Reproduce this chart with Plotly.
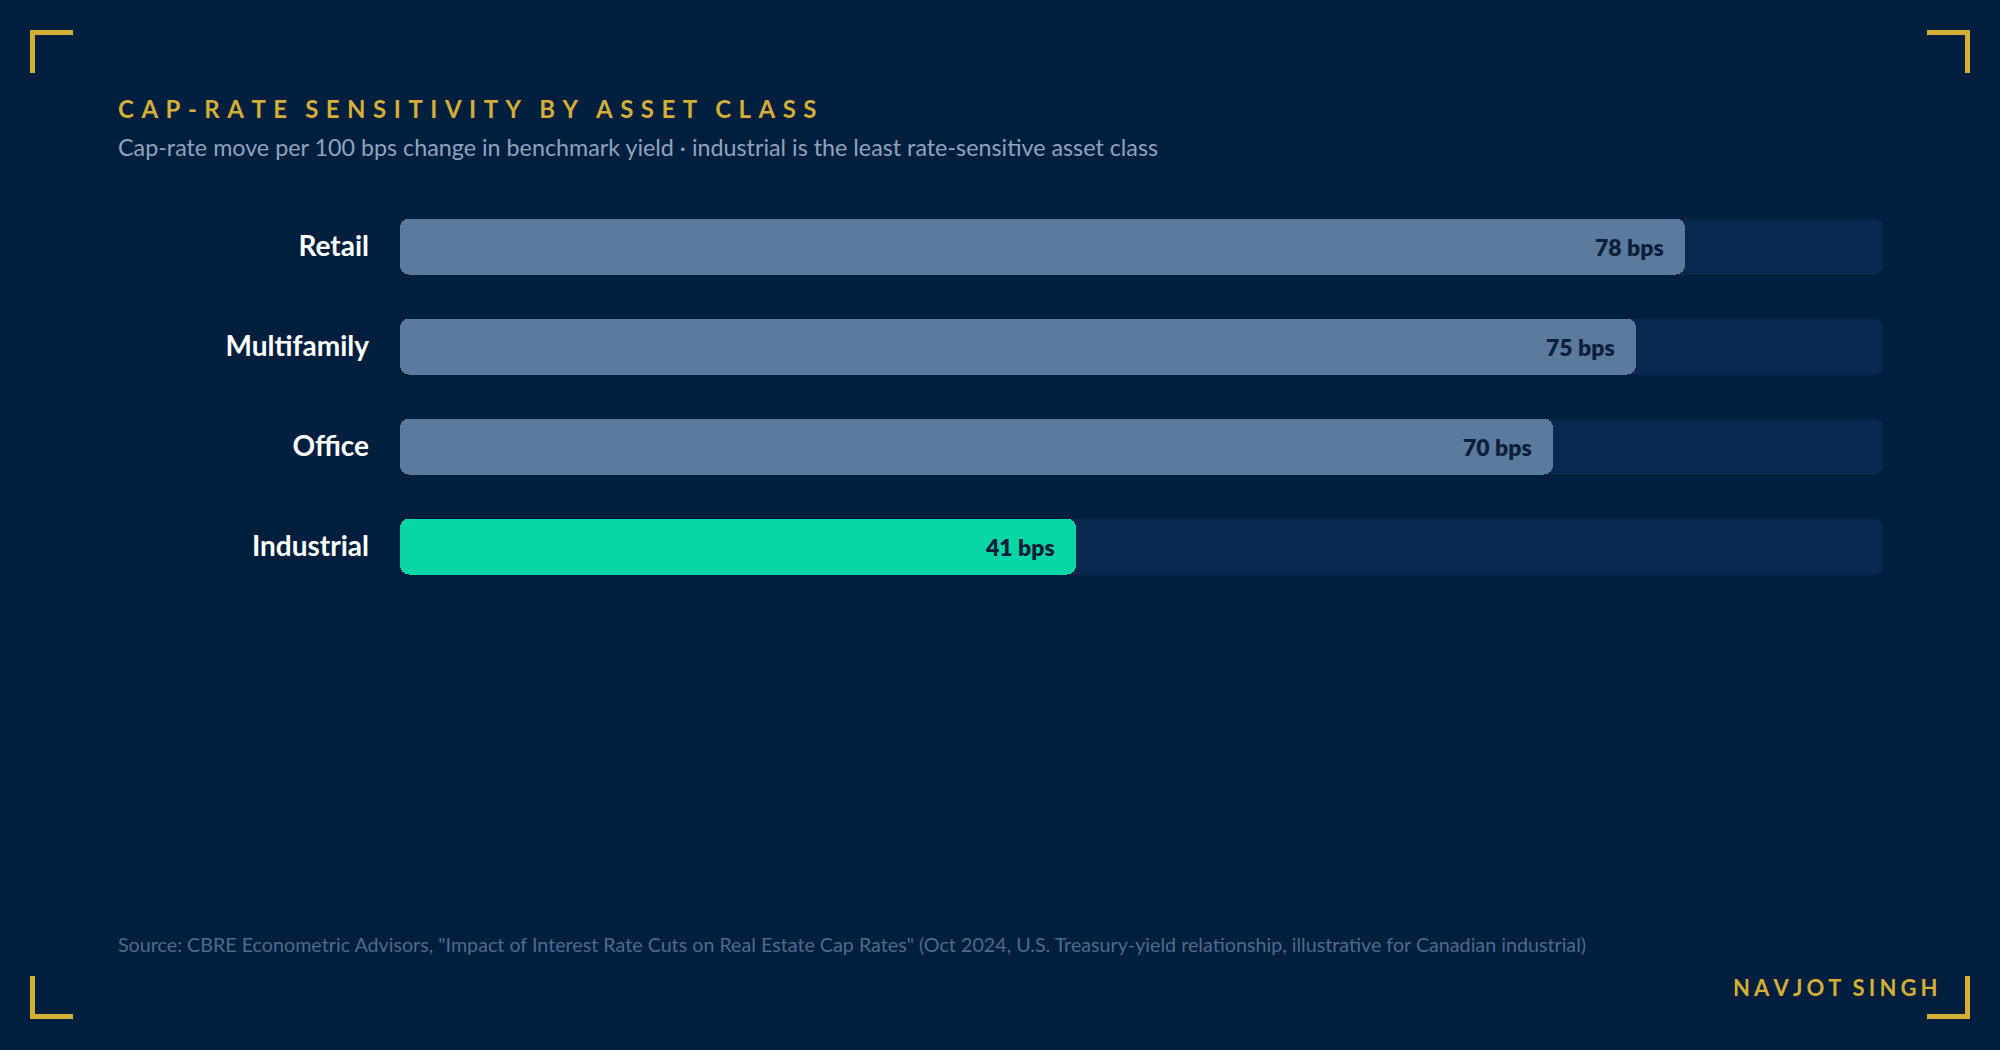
import plotly.graph_objects as go

# ---------------- data ----------------
categories = ["Retail", "Multifamily", "Office", "Industrial"]
values = [78, 75, 70, 41]
track_max = 90
value_labels = [f"{v} bps" for v in values]

title_text = "CAP-RATE SENSITIVITY BY ASSET CLASS"
subtitle_text = ("Cap-rate move per 100 bps change in benchmark yield \u00b7 "
                 "industrial is the least rate-sensitive asset class")
source_text = ("Source: CBRE Econometric Advisors, \"Impact of Interest Rate Cuts on Real Estate "
               "Cap Rates\" (Oct 2024, U.S. Treasury-yield relationship, illustrative for Canadian industrial)")
author_text = "NAVJOT SINGH"

# ---------------- style ----------------
W, H = 2000, 1050
BG = "#001f3f"
TRACK = "#082850"
BAR = "#5c7a9e"
HILITE = "#08d6a4"
GOLD = "#d4af37"
LABEL_DARK = "#0b1f3b"
FONT = "Lato"
RADIUS = 9
BAR_W = 0.56


def spaced(s, gap, wordgap):
    words = s.split(" ")
    return wordgap.join(gap.join(list(w)) for w in words)


def px_x(x):
    return x / W


def px_y(y):
    return 1 - y / H


bar_colors = [HILITE if c == "Industrial" else BAR for c in categories]

fig = go.Figure()
# background track
fig.add_trace(go.Bar(
    y=categories, x=[track_max] * len(categories), base=[0] * len(categories),
    orientation="h", yaxis="y",
    marker=dict(color=TRACK, cornerradius=RADIUS, line=dict(width=0)),
    width=BAR_W, hoverinfo="skip", showlegend=False,
))
# value bars (explicit base -> all four corners rounded), on their own overlay axis
fig.add_trace(go.Bar(
    y=categories, x=values, base=[0] * len(categories), orientation="h", yaxis="y2",
    marker=dict(color=bar_colors, cornerradius=RADIUS, line=dict(width=0)),
    width=BAR_W, hoverinfo="skip", showlegend=False,
))

annotations = []
for c, v, lab in zip(categories, values, value_labels):
    annotations.append(dict(
        x=v, y=c, xref="x", yref="y", text=lab, showarrow=False,
        xanchor="right", yanchor="middle", xshift=-19,
        font=dict(family=FONT, size=23, color=LABEL_DARK, weight=800),
    ))

annotations += [
    dict(x=px_x(116), y=px_y(108), xref="paper", yref="paper",
         text=spaced(title_text, "\u2009\u2009\u200a", "\u2009\u2009\u2009\u2009\u2009\u2009"),
         showarrow=False, xanchor="left", yanchor="middle",
         font=dict(family=FONT, size=24, color=GOLD, weight=700)),
    dict(x=px_x(116), y=px_y(147), xref="paper", yref="paper", text=subtitle_text,
         showarrow=False, xanchor="left", yanchor="middle",
         font=dict(family=FONT, size=23.3, color="#8fa3bf")),
    dict(x=px_x(116), y=px_y(944), xref="paper", yref="paper", text=source_text,
         showarrow=False, xanchor="left", yanchor="middle",
         font=dict(family=FONT, size=19.7, color="#4f6a8c")),
    dict(x=px_x(1940), y=px_y(987), xref="paper", yref="paper",
         text=spaced(author_text, "\u2009\u200a", "\u2009\u2009\u2009\u2009"),
         showarrow=False, xanchor="right", yanchor="middle",
         font=dict(family=FONT, size=22, color=GOLD, weight=700)),
]

# corner brackets (pixel geometry -> paper)
shapes = []
T = 5
L = 43


def rect(x0, y0, x1, y1):
    shapes.append(dict(type="rect", xref="paper", yref="paper",
                       x0=px_x(x0), x1=px_x(x1), y0=px_y(y0), y1=px_y(y1),
                       fillcolor=GOLD, line=dict(width=0), layer="above"))


rect(30, 30, 30 + L, 30 + T); rect(30, 30, 30 + T, 30 + L)
rect(1970 - L, 30, 1970, 30 + T); rect(1970 - T, 30, 1970, 30 + L)
rect(30, 1019 - T, 30 + L, 1019); rect(30, 1019 - L, 30 + T, 1019)
rect(1970 - L, 1019 - T, 1970, 1019); rect(1970 - T, 1019 - L, 1970, 1019)

cat_range = [len(categories) - 0.5, -0.5]

fig.update_layout(
    width=W, height=H, autosize=False,
    paper_bgcolor=BG, plot_bgcolor=BG,
    margin=dict(l=0, r=0, t=0, b=0),
    barmode="overlay", bargap=0,
    showlegend=False,
    annotations=annotations, shapes=shapes,
    xaxis=dict(domain=[px_x(400), px_x(1883)], range=[0, track_max],
               visible=False, fixedrange=True),
    yaxis=dict(domain=[px_y(596.5), px_y(196.5)], type="category",
               categoryorder="array", categoryarray=categories,
               range=cat_range,
               showgrid=False, zeroline=False, showline=False, ticks="",
               ticklabelstandoff=30,
               tickfont=dict(family=FONT, size=28, color="#ffffff", weight=700),
               fixedrange=True),
    yaxis2=dict(type="category", categoryorder="array", categoryarray=categories,
                range=cat_range, overlaying="y", visible=False,
                showgrid=False, zeroline=False, fixedrange=True),
    hovermode=False,
)

fig.write_html("out.html", config={"displayModeBar": False})
